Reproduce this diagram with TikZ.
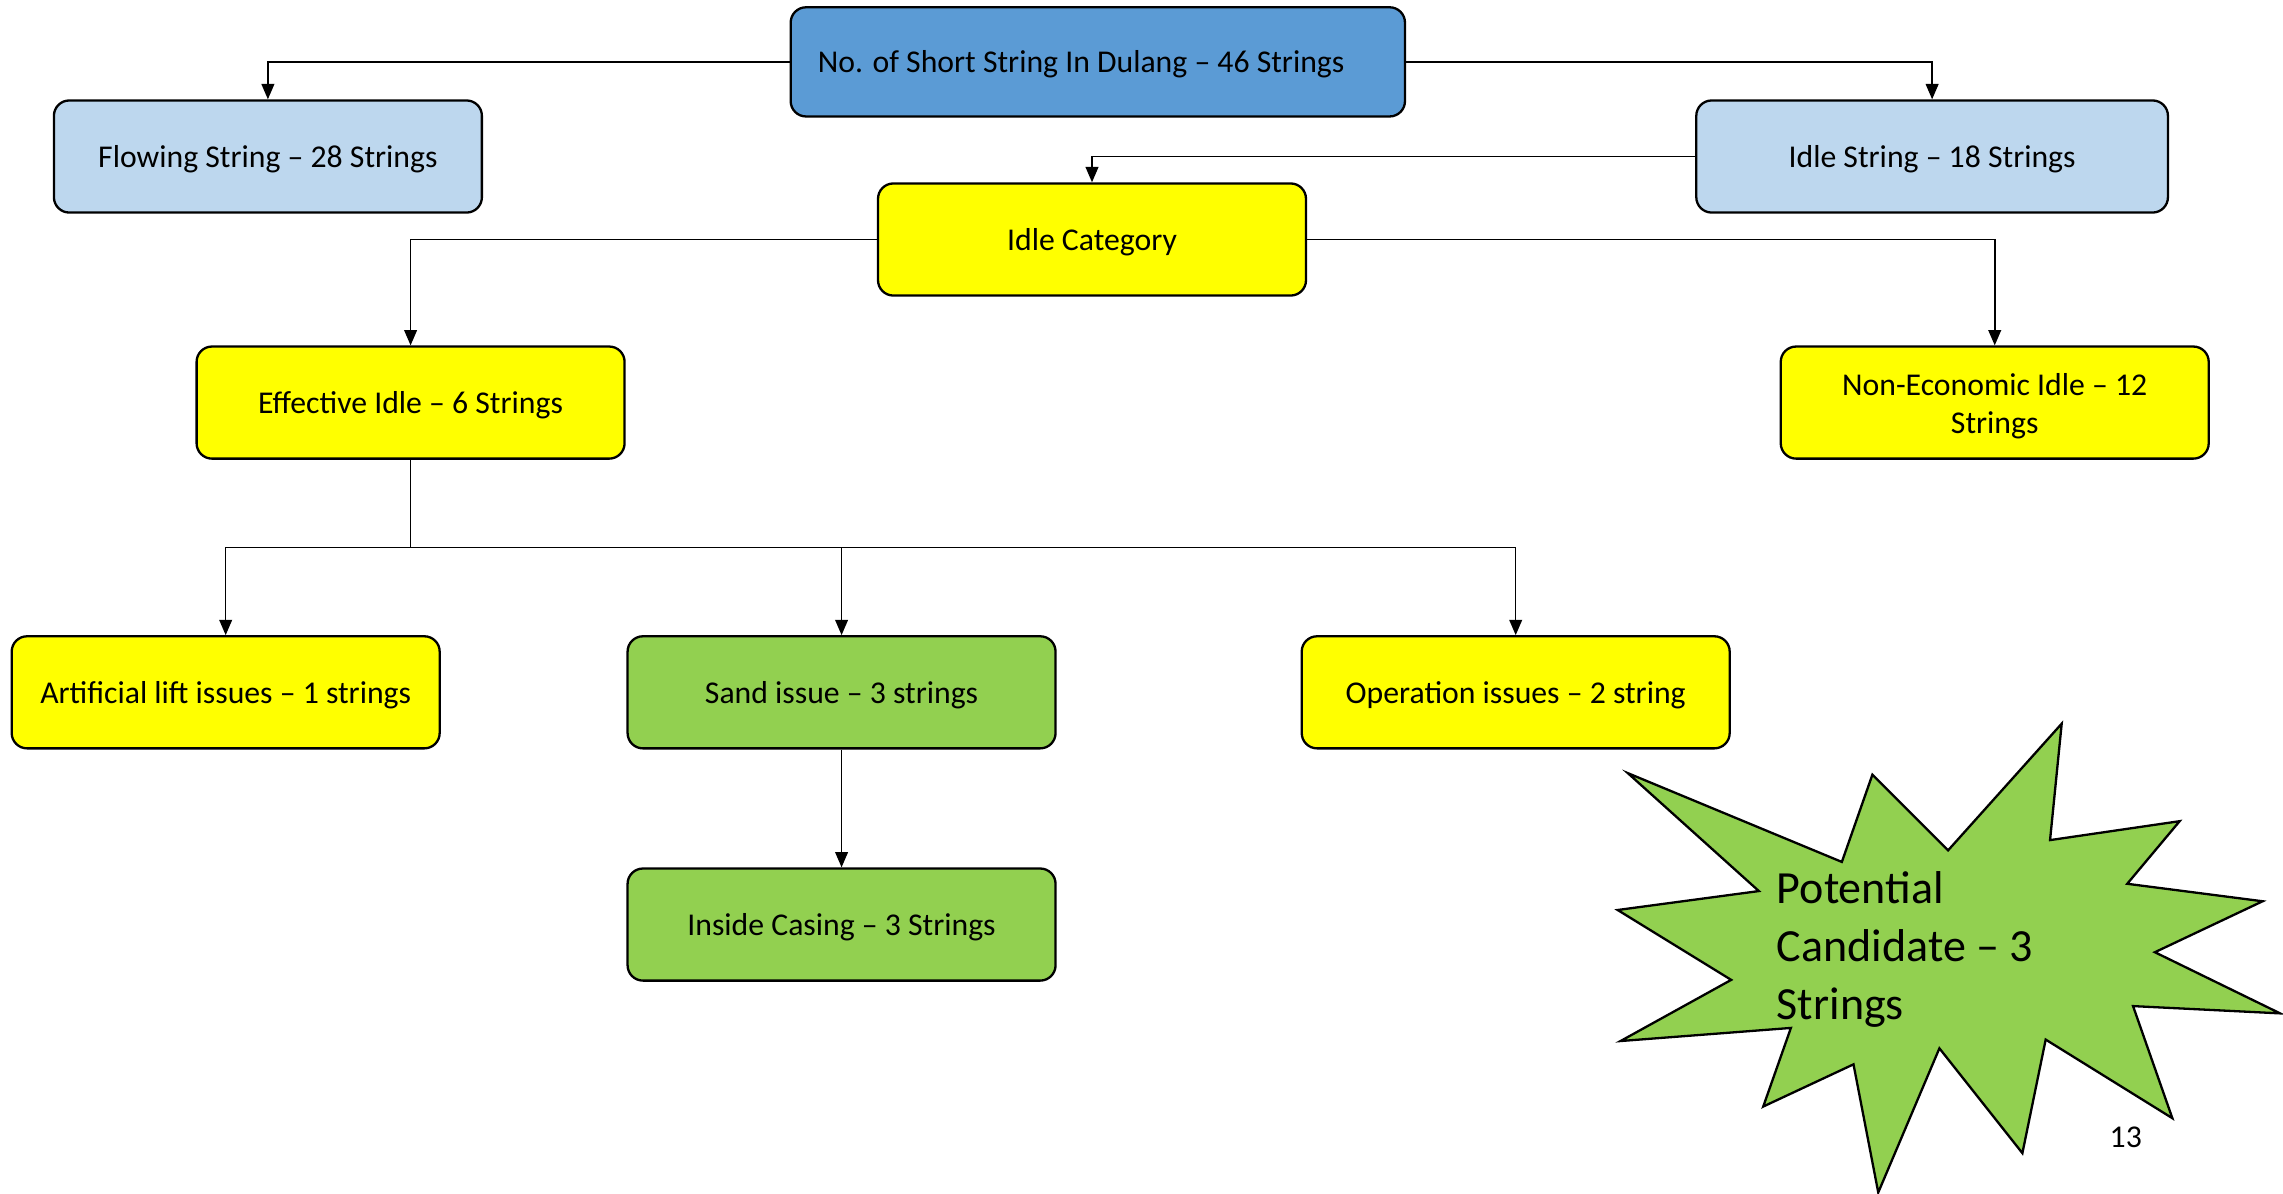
\documentclass[tikz,border=0pt]{standalone}
\usepackage{fontspec}
\setmainfont{Carlito}
\usetikzlibrary{arrows.meta}
\definecolor{topblue}{HTML}{5B9BD5}
\definecolor{lightblue}{HTML}{BDD7EE}
\definecolor{yel}{HTML}{FFFF00}
\definecolor{grn}{HTML}{92D050}
\begin{document}
\begin{tikzpicture}[x=0.02cm,y=-0.02cm,
  boxbase/.style={draw=black,line width=0.9pt,rounded corners=6pt,minimum width=5.88cm,minimum height=1.54cm,
    font=\fontsize{12.4}{15}\selectfont,align=center,inner sep=2pt},
  box/.style={boxbase,text height=11.5pt,text depth=3.1pt},
  conn/.style={line width=0.6pt,-{Triangle[length=6pt,width=5pt]}},
  plain/.style={line width=0.6pt}]
\useasboundingbox (0,0) rectangle (1568,820);
\node[box,fill=topblue,minimum width=8.44cm,minimum height=1.5cm] (top) at (754,42.5) {No. of Short String In Dulang – 46 Strings\hspace*{13pt}};
\node[box,fill=lightblue] (flow) at (184,107.5) {Flowing String – 28 Strings};
\node[box,fill=lightblue,minimum width=6.48cm] (idle) at (1327,107.5) {Idle String – 18 Strings};
\node[box,fill=yel] (cat) at (750,164.5) {Idle Category};
\node[box,fill=yel] (eff) at (282,276.5) {Effective Idle – 6 Strings};
\node[boxbase,fill=yel] (noneco) at (1370,276.5) {\rule{0pt}{11.5pt}Non-Economic Idle – 12\\Strings};
\node[box,fill=yel] (art) at (155,475.5) {Artificial lift issues – 1 strings};
\node[box,fill=grn] (sand) at (578,475.5) {Sand issue – 3 strings};
\node[box,fill=yel] (op) at (1041,475.5) {Operation issues – 2 string};
\node[box,fill=grn] (cas) at (578,635) {Inside Casing – 3 Strings};

\draw[conn] (top.west) -| (flow.north);
\draw[conn] (top.east) -| (idle.north);
\draw[conn] (idle.west) -| (cat.north);
\draw[conn] (cat.west) -| (eff.north);
\draw[conn] (cat.east) -| (noneco.north);
\coordinate (j) at (282,376);
\draw[plain] (eff.south) -- (j);
\draw[conn] (j) -| (art.north);
\draw[conn] (j) -| (sand.north);
\draw[conn] (j) -| (op.north);
\draw[conn] (sand.south) -- (cas.north);

\draw[fill=grn,line width=0.9pt,line join=miter]
 (1416,497) -- (1408,577) -- (1497,564) -- (1461,607) -- (1554,619) -- (1480,654)
 -- (1566,696) -- (1465,691) -- (1492,768) -- (1405,714) -- (1389,792) -- (1332,720)
 -- (1290,819) -- (1273,731) -- (1211,760) -- (1230,706) -- (1113,715) -- (1189,673)
 -- (1111,625) -- (1208,612) -- (1118,531) -- (1265,592) -- (1286,532) -- (1338,584) -- cycle;
\node[anchor=west,align=left,font=\fontsize{18}{22.7}\selectfont,inner sep=0pt] (pot) at (1220,652) {Potential\\Candidate – 3\\Strings};
\node[font=\fontsize{12.4}{15}\selectfont] (pg) at (1460,781) {13};
\end{tikzpicture}
\end{document}
